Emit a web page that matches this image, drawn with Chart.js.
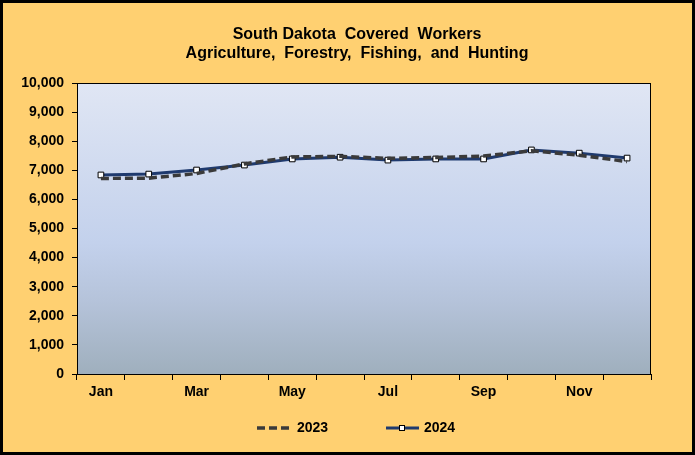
<!DOCTYPE html>
<html>
<head>
<meta charset="utf-8">
<script src="https://cdn.jsdelivr.net/npm/chart.js@4.4.1/dist/chart.umd.min.js"></script>
<style>
  html, body { margin: 0; padding: 0; background: #FFD071; }
  canvas { display: block; }
</style>
</head>
<body>
<canvas id="workChart" width="695" height="455"></canvas>
<script>
const months = ['Jan', 'Feb', 'Mar', 'Apr', 'May', 'Jun', 'Jul', 'Aug', 'Sep', 'Oct', 'Nov', 'Dec'];
const workers2023 = [6720, 6730, 6890, 7220, 7460, 7480, 7410, 7440, 7490, 7670, 7520, 7300];
const workers2024 = [6840, 6870, 7010, 7180, 7390, 7450, 7350, 7390, 7390, 7700, 7590, 7420];
const yTicks = [0, 1000, 2000, 3000, 4000, 5000, 6000, 7000, 8000, 9000, 10000];
const titleLines = ['South Dakota  Covered  Workers', 'Agriculture,  Forestry,  Fishing,  and  Hunting'];

const FONT = '"Liberation Sans", Arial, sans-serif';

// background, outer border, plot gradient, frame, title and legend
const framePlugin = {
    id: 'frame',
    beforeDraw(chart) {
        const { ctx, width, height, chartArea: a } = chart;
        ctx.save();
        ctx.fillStyle = '#FFD071';
        ctx.fillRect(0, 0, width, height);
        ctx.lineWidth = 3;
        ctx.strokeStyle = '#000';
        ctx.strokeRect(1.5, 1.5, width - 3, height - 3);
        const g = ctx.createLinearGradient(0, a.top, 0, a.bottom);
        g.addColorStop(0, '#E0E6F4');
        g.addColorStop(0.55, '#C3D1EC');
        g.addColorStop(0.75, '#B5C3DA');
        g.addColorStop(1, '#9FAFBD');
        ctx.fillStyle = g;
        ctx.fillRect(a.left, a.top, a.right - a.left, a.bottom - a.top);

        ctx.fillStyle = '#000';
        ctx.font = 'bold 16px ' + FONT;
        ctx.textAlign = 'center';
        ctx.textBaseline = 'alphabetic';
        ctx.fillText(titleLines[0], 357, 38.5);
        ctx.fillText(titleLines[1], 357, 57.5);
        ctx.restore();
    },
    afterDraw(chart) {
        const { ctx, chartArea: a } = chart;
        ctx.save();
        ctx.lineWidth = 1;
        ctx.strokeStyle = '#000';
        ctx.strokeRect(a.left + 0.5, a.top + 0.5, a.right - a.left - 1, a.bottom - a.top);
        // legend
        const y = 428;
        ctx.font = 'bold 14px ' + FONT;
        ctx.textBaseline = 'middle';
        ctx.fillStyle = '#000';
        ctx.lineWidth = 3.5;
        ctx.strokeStyle = '#3A3A3A';
        ctx.setLineDash([8, 4]);
        ctx.beginPath(); ctx.moveTo(257, y); ctx.lineTo(290, y); ctx.stroke();
        ctx.setLineDash([]);
        ctx.fillText('2023', 297, y);
        ctx.lineWidth = 3;
        ctx.strokeStyle = '#1F3A6E';
        ctx.beginPath(); ctx.moveTo(386, y); ctx.lineTo(419, y); ctx.stroke();
        ctx.fillStyle = '#fff';
        ctx.lineWidth = 1;
        ctx.strokeStyle = '#000';
        ctx.fillRect(399.5, y - 2.5, 5, 5);
        ctx.strokeRect(399.5, y - 2.5, 5, 5);
        ctx.fillStyle = '#000';
        ctx.fillText('2024', 424, y);
        ctx.restore();
    }
};

new Chart(document.getElementById('workChart').getContext('2d'), {
    type: 'line',
    data: {
        labels: months,
        datasets: [
            {
                label: '2023',
                data: workers2023,
                borderColor: '#3A3A3A',
                borderWidth: 3.5,
                borderDash: [8, 4],
                pointRadius: 0,
                tension: 0,
                fill: false
            },
            {
                label: '2024',
                data: workers2024,
                borderColor: '#1F3A6E',
                borderWidth: 3,
                pointStyle: 'rect',
                pointRadius: 4,
                pointBackgroundColor: '#fff',
                pointBorderColor: '#000',
                pointBorderWidth: 1,
                tension: 0,
                fill: false
            }
        ]
    },
    options: {
        responsive: false,
        animation: false,
        devicePixelRatio: 1,
        layout: { padding: { left: 0, right: 44, top: 83, bottom: 0 } },
        plugins: {
            legend: { display: false },
            tooltip: { enabled: false },
            title: { display: false }
        },
        scales: {
            x: {
                offset: true,
                grid: { offset: true, drawOnChartArea: false, color: '#000', tickLength: 6 },
                border: { color: '#000' },
                ticks: {
                    autoSkip: false,
                    maxRotation: 0,
                    color: '#000',
                    padding: 4,
                    font: { family: FONT, size: 14, weight: 'bold' },
                    callback: function (v, i) { return i % 2 === 0 ? months[i] : ''; }
                },
                afterFit(scale) { scale.height = 81; }
            },
            y: {
                min: yTicks[0],
                max: yTicks[yTicks.length - 1],
                afterBuildTicks(scale) { scale.ticks = yTicks.map(v => ({ value: v })); },
                grid: { drawOnChartArea: false, color: '#000', tickLength: 5 },
                border: { color: '#000' },
                ticks: {
                    color: '#000',
                    padding: 8,
                    font: { family: FONT, size: 14, weight: 'bold' },
                    callback: v => v.toLocaleString('en-US')
                },
                afterFit(scale) { scale.width = 77; }
            }
        }
    },
    plugins: [framePlugin]
});
</script>
</body>
</html>
